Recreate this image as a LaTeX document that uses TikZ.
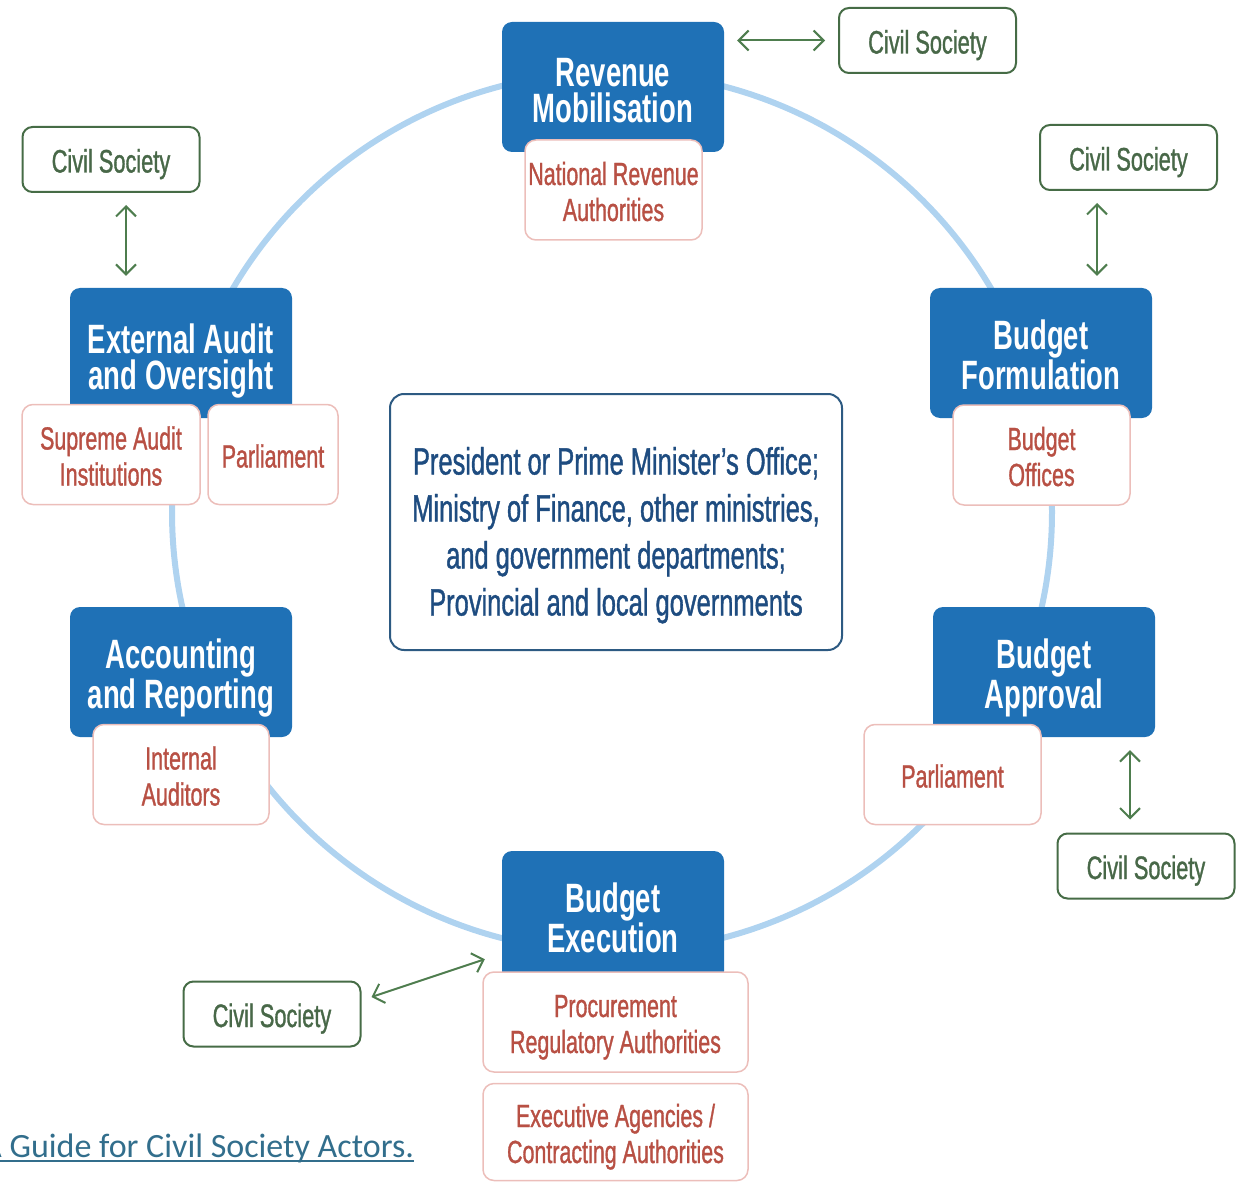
\documentclass[tikz,border=0pt]{standalone}
\usepackage{fontspec}
\newfontfamily\condfont{Liberation Sans}[FakeStretch=0.67]
\newfontfamily\medfont{Liberation Sans}[FakeStretch=0.67, FakeBold=1]
\newfontfamily\notefont{Carlito}
\usetikzlibrary{arrows.meta}

\tikzset{
	phase/.style={fill=phaseblue, rounded corners=10pt, minimum width=222pt, minimum height=130pt, inner sep=0pt, align=center, text=white, font=\condfont\bfseries\fontsize{41}{36}\selectfont, execute at begin node={\rule{0pt}{81pt}}, execute at end node={\rule[-9pt]{0pt}{9pt}}},
	actor/.style={draw=actorpink, line width=1.5pt, fill=white, rounded corners=11pt, minimum height=100pt, inner sep=0pt, align=center, text=actorred, font=\medfont\fontsize{32}{36}\selectfont, execute at begin node={\rule{0pt}{33pt}}, execute at end node={\rule[-7pt]{0pt}{7pt}}},
	pair/.style={execute at begin node={\rule{0pt}{69pt}}},
	civil/.style={draw=civilgreen, line width=2pt, fill=white, rounded corners=10pt, minimum width=177pt, minimum height=65pt, inner sep=0pt, text=civiltext, font=\medfont\fontsize{32.5}{36}\selectfont, execute at begin node={\rule{0pt}{33pt}}, execute at end node={\rule[-7pt]{0pt}{7pt}}},
	hub/.style={draw=hubborder, line width=2pt, fill=white, rounded corners=14pt, minimum width=452pt, minimum height=256pt, inner sep=0pt, align=center, text=hubtext, font=\medfont\fontsize{38}{47}\selectfont, execute at begin node={\rule{0pt}{196pt}}, execute at end node={\rule[-9pt]{0pt}{9pt}}},
	csarrow/.style={{Straight Barb[length=10pt,width=20pt]}-{Straight Barb[length=10pt,width=20pt]}, draw=arrowgreen, line width=2pt, shorten <=13pt, shorten >=13pt},
}

\begin{document}
\begin{tikzpicture}[x=1pt, y=-1pt]
		\definecolor{phaseblue}{RGB}{31,113,182}
		\definecolor{actorpink}{RGB}{236,190,186}
		\definecolor{actorred}{RGB}{184,80,68}
		\definecolor{civilgreen}{RGB}{70,108,70}
		\definecolor{civiltext}{RGB}{72,104,72}
		\definecolor{arrowgreen}{RGB}{78,125,78}
		\definecolor{cyclering}{RGB}{175,211,240}
		\definecolor{hubborder}{RGB}{45,90,130}
		\definecolor{hubtext}{RGB}{30,76,128}
		\definecolor{notecolor}{RGB}{50,110,140}
		\useasboundingbox (0,0) rectangle (1242,1182);
		\draw[cyclering, line width=6pt] (612,512) circle[radius=440pt];

		\node[hub] (gov) at (616,522) {President or Prime Minister’s Office;\\Ministry of Finance, other ministries,\\and government departments;\\Provincial and local governments};

		\node[phase] (rev) at (613,87) {Revenue\\Mobilisation};
		\node[phase] (form) at (1041,353) {Budget\\Formulation};
		\node[phase] (appr) at (1044,672) {Budget\\Approval};
		\node[phase] (exec) at (613,916) {Budget\\Execution};
		\node[phase] (audit) at (181,353) {External Audit\\and Oversight};
		\node[phase] (acct) at (181,672) {Accounting\\and Reporting};

		\node[actor, pair, minimum width=177pt] (nra) at (613.5,190) {National Revenue\\Authorities};
		\node[actor, pair, minimum width=177pt] (boff) at (1041.5,455) {Budget\\Offices};
		\node[actor, minimum width=177pt] (parlA) at (952.5,774.5) {Parliament};
		\node[actor, pair, minimum width=265pt] (proc) at (615.5,1022) {Procurement\\Regulatory Authorities};
		\node[actor, pair, minimum width=265pt, minimum height=97pt] (agen) at (615.5,1132) {Executive Agencies /\\Contracting Authorities};
		\node[actor, pair, minimum width=178pt] (sai) at (111,454.5) {Supreme Audit\\Institutions};
		\node[actor, minimum width=130pt] (parlE) at (273,454.5) {Parliament};
		\node[actor, pair, minimum width=176pt] (intaud) at (181,774.5) {Internal\\Auditors};

		\node[civil] (cs1) at (927.5,40.5) {Civil Society};
		\node[civil] (cs2) at (1128.5,157.5) {Civil Society};
		\node[civil] (cs3) at (1146,866) {Civil Society};
		\node[civil] (cs4) at (272,1014) {Civil Society};
		\node[civil] (cs5) at (111,159.5) {Civil Society};

		\draw[csarrow] (cs1.west -| rev.east) -- (cs1.west);
		\draw[csarrow, shorten <=12pt, shorten >=12pt] ([xshift=56pt]form.north |- cs2.south) -- ([xshift=56pt]form.north);
		\draw[csarrow] ([xshift=86pt]appr.south) -- ([xshift=86pt]appr.south |- cs3.north);
		\draw[csarrow, shorten <=0pt, shorten >=0pt] ([shift={(10pt,17pt)}]cs4.east) -- ([shift={(-17pt,22pt)}]exec.south west);
		\draw[csarrow, shorten <=12pt, shorten >=12pt] ([xshift=-55pt]audit.north |- cs5.south) -- ([xshift=-55pt]audit.north);

		\node[anchor=base west, inner sep=0pt, text=notecolor, font=\notefont\fontsize{34}{40}\selectfont] (src) at (-18,1157) {A Guide for Civil Society Actors.};
		\draw[notecolor, line width=1.6pt] ([yshift=-4pt]src.base west) -- ([yshift=-4pt]src.base east);
	\end{tikzpicture}
\end{document}
